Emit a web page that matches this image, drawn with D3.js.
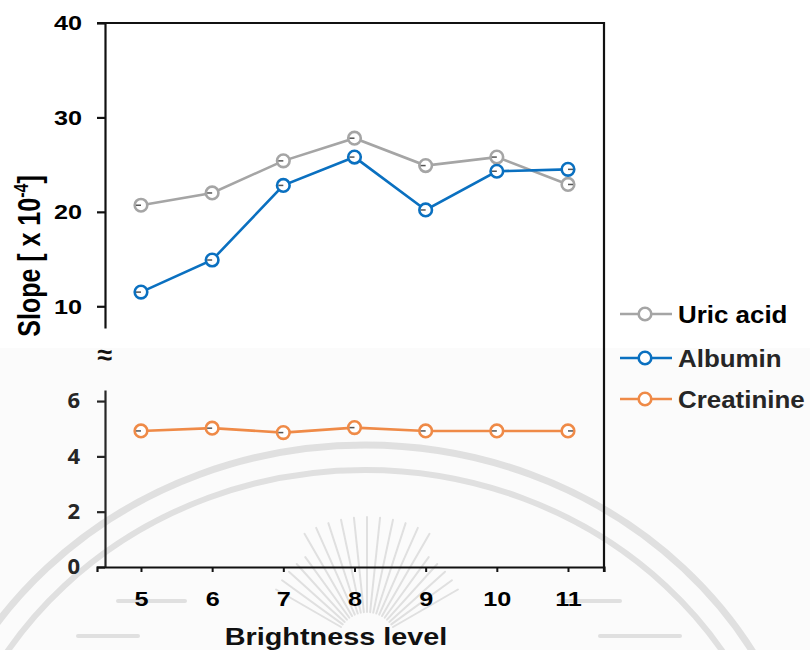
<!DOCTYPE html>
<html>
<head>
<meta charset="utf-8">
<script src="https://cdn.jsdelivr.net/npm/d3@7/dist/d3.min.js"></script>
<style>
  html, body { margin: 0; padding: 0; background: #ffffff; }
  svg { display: block; }
</style>
</head>
<body>
<svg id="chart" width="810" height="650"></svg>
<script>
// Brightness levels on the x axis
const levels = [5, 6, 7, 8, 9, 10, 11];

// Slopes (x 10^-4) for each analyte
const uricAcid   = [20.7, 22.0, 25.4, 27.8, 24.9, 25.8, 22.9];
const albumin    = [11.5, 14.9, 22.8, 25.8, 20.2, 24.3, 24.5];
const creatinine = [4.92, 5.02, 4.86, 5.04, 4.92, 4.92, 4.92];

// Tick labels for the two panels of the broken y axis
const upperTicks = [10, 20, 30, 40];
const lowerTicks = [0, 2, 4, 6];

const seriesNames  = ["Uric acid", "Albumin", "Creatinine"];
const seriesColors = ["#a5a5a5", "#0a70c0", "#ef8a47"];

const ARIAL = "Liberation Sans, Arial, sans-serif";
const svg = d3.select("#chart");

// faint background seal
const seal = svg.append("g").attr("fill", "none").attr("stroke", "#e0e0e0");
seal.append("rect").attr("x", 0).attr("y", 348).attr("width", 810).attr("height", 302)
  .attr("fill", "#fbfbfb").attr("stroke", "none");
seal.append("ellipse").attr("cx", 365).attr("cy", 865).attr("rx", 450).attr("ry", 420).attr("stroke-width", 7);
seal.append("ellipse").attr("cx", 365).attr("cy", 865).attr("rx", 425).attr("ry", 395).attr("stroke-width", 6);
const rayAngles = d3.range(-150, -25, 6);
seal.selectAll("line.ray").data(rayAngles).join("line")
  .attr("class", "ray")
  .attr("x1", a => 367 + 30 * Math.cos(a * Math.PI / 180))
  .attr("y1", a => 642 + 30 * Math.sin(a * Math.PI / 180))
  .attr("x2", a => 367 + (Math.abs(a + 90) < 35 ? 125 : 105) * Math.cos(a * Math.PI / 180))
  .attr("y2", a => 642 + (Math.abs(a + 90) < 35 ? 125 : 105) * Math.sin(a * Math.PI / 180))
  .attr("stroke-width", 2).attr("stroke-linecap", "round");
[[78, 636, 138], [118, 601, 185], [560, 601, 620], [600, 636, 680]].forEach(d => {
  seal.append("line").attr("x1", d[0]).attr("y1", d[1]).attr("x2", d[2]).attr("y2", d[1])
    .attr("stroke-width", 4).attr("stroke-linecap", "round");
});

// scales
const x = d3.scaleLinear().domain([4.382, 11.506]).range([97, 604]);
const yTop = d3.scaleLinear().domain([7.7, 40]).range([328, 23]);
const yBot = d3.scaleLinear().domain([0, 6.4]).range([567, 390]);

const axisColor = "#111";
const SX = 1.2; // horizontal widening of tick labels

// upper y axis
const gTop = svg.append("g").attr("transform", "translate(105,0)")
  .call(d3.axisLeft(yTop).tickValues(upperTicks).tickSize(8).tickSizeOuter(0));
gTop.select(".domain").attr("stroke", axisColor).attr("stroke-width", 2.2);
gTop.selectAll(".tick line").attr("stroke", axisColor).attr("stroke-width", 2.2);
gTop.selectAll(".tick text").attr("font-size", 21).attr("fill", "#000")
  .attr("font-family", ARIAL).attr("font-weight", "bold")
  .attr("x", -23 / SX).attr("transform", `scale(${SX},1)`);

// lower y axis
const gBot = svg.append("g").attr("transform", "translate(105,0)")
  .call(d3.axisLeft(yBot).tickValues(lowerTicks).tickFormat(d3.format("d")).tickSize(8).tickSizeOuter(0));
gBot.select(".domain").attr("stroke", "#262626").attr("stroke-width", 2.2);
gBot.selectAll(".tick line").attr("stroke", "#262626").attr("stroke-width", 2.2);
gBot.selectAll(".tick text").attr("font-size", 21).attr("fill", "#262626")
  .attr("font-family", "Open Sans, sans-serif").attr("font-weight", "bold")
  .attr("x", -25 / 1.05).attr("transform", "scale(1.05,1)");

// x axis
const gX = svg.append("g").attr("transform", "translate(0,567)")
  .call(d3.axisBottom(x).tickValues(levels).tickSize(5).tickSizeOuter(5).tickPadding(19));
gX.select(".domain").attr("stroke", axisColor).attr("stroke-width", 2.2);
gX.selectAll(".tick line").attr("stroke", axisColor).attr("stroke-width", 2);
gX.selectAll(".tick text").attr("font-size", 21).attr("fill", "#000")
  .attr("font-family", ARIAL).attr("font-weight", "bold")
  .attr("transform", `scale(${SX},1)`);

// frame: top edge and right edge
svg.append("line").attr("x1", 97).attr("x2", 604).attr("y1", 23).attr("y2", 23)
  .attr("stroke", axisColor).attr("stroke-width", 2.2);
svg.append("line").attr("x1", 604).attr("x2", 604).attr("y1", 22).attr("y2", 572)
  .attr("stroke", axisColor).attr("stroke-width", 2.2);

// axis break mark
svg.append("text").attr("x", 105).attr("y", 364).attr("text-anchor", "middle")
  .attr("font-family", ARIAL).attr("font-weight", "bold")
  .attr("font-size", 27).attr("fill", "#111").text("≈");

// series
function drawSeries(values, scale, color) {
  const pts = levels.map((l, i) => [x(l), scale(values[i])]);
  svg.append("path").datum(pts)
    .attr("d", d3.line())
    .attr("fill", "none").attr("stroke", color).attr("stroke-width", 2.6);
  const g = svg.append("g");
  g.selectAll("circle").data(pts).join("circle")
    .attr("cx", d => d[0]).attr("cy", d => d[1]).attr("r", 6.3)
    .attr("fill", "#fff").attr("stroke", color).attr("stroke-width", 2.6);
  g.selectAll("line").data(pts).join("line")
    .attr("x1", (d, i) => i === pts.length - 1 ? d[0] : d[0] - 5)
    .attr("x2", (d, i) => i === pts.length - 1 ? d[0] + 5 : d[0])
    .attr("y1", d => d[1]).attr("y2", d => d[1])
    .attr("stroke", "#555").attr("stroke-width", 1.5);
}
drawSeries(uricAcid, yTop, seriesColors[0]);
drawSeries(albumin, yTop, seriesColors[1]);
drawSeries(creatinine, yBot, seriesColors[2]);

// legend
const legendY = [314, 358, 399];
seriesNames.forEach((name, i) => {
  const g = svg.append("g").attr("transform", `translate(0,${legendY[i]})`);
  g.append("line").attr("x1", 620).attr("x2", 672).attr("y1", 0).attr("y2", 0)
    .attr("stroke", seriesColors[i]).attr("stroke-width", 2.6);
  g.append("circle").attr("cx", 645).attr("cy", 0).attr("r", 6.3)
    .attr("fill", "#fff").attr("stroke", seriesColors[i]).attr("stroke-width", 2.6);
  g.append("text").attr("transform", "translate(678,8.5) scale(1.08,1)")
    .attr("font-family", ARIAL).attr("font-weight", "bold").attr("font-size", 24)
    .attr("fill", i === 0 ? "#000" : "#262626").text(name);
});

// axis titles
svg.append("text").attr("transform", "translate(336,645) scale(1.2,1)")
  .attr("text-anchor", "middle").attr("font-family", ARIAL).attr("font-weight", "bold")
  .attr("font-size", 24).attr("fill", "#111").text("Brightness level");

const yt = svg.append("text")
  .attr("transform", "translate(40,256) rotate(-90) scale(1,1.25)")
  .attr("text-anchor", "middle").attr("font-family", ARIAL).attr("font-weight", "bold")
  .attr("font-size", 25).attr("fill", "#000");
yt.append("tspan").text("Slope [ x 10");
yt.append("tspan").attr("dy", -10).attr("font-size", 16).text("-4");
yt.append("tspan").attr("dy", 10).text("]");
</script>
</body>
</html>
